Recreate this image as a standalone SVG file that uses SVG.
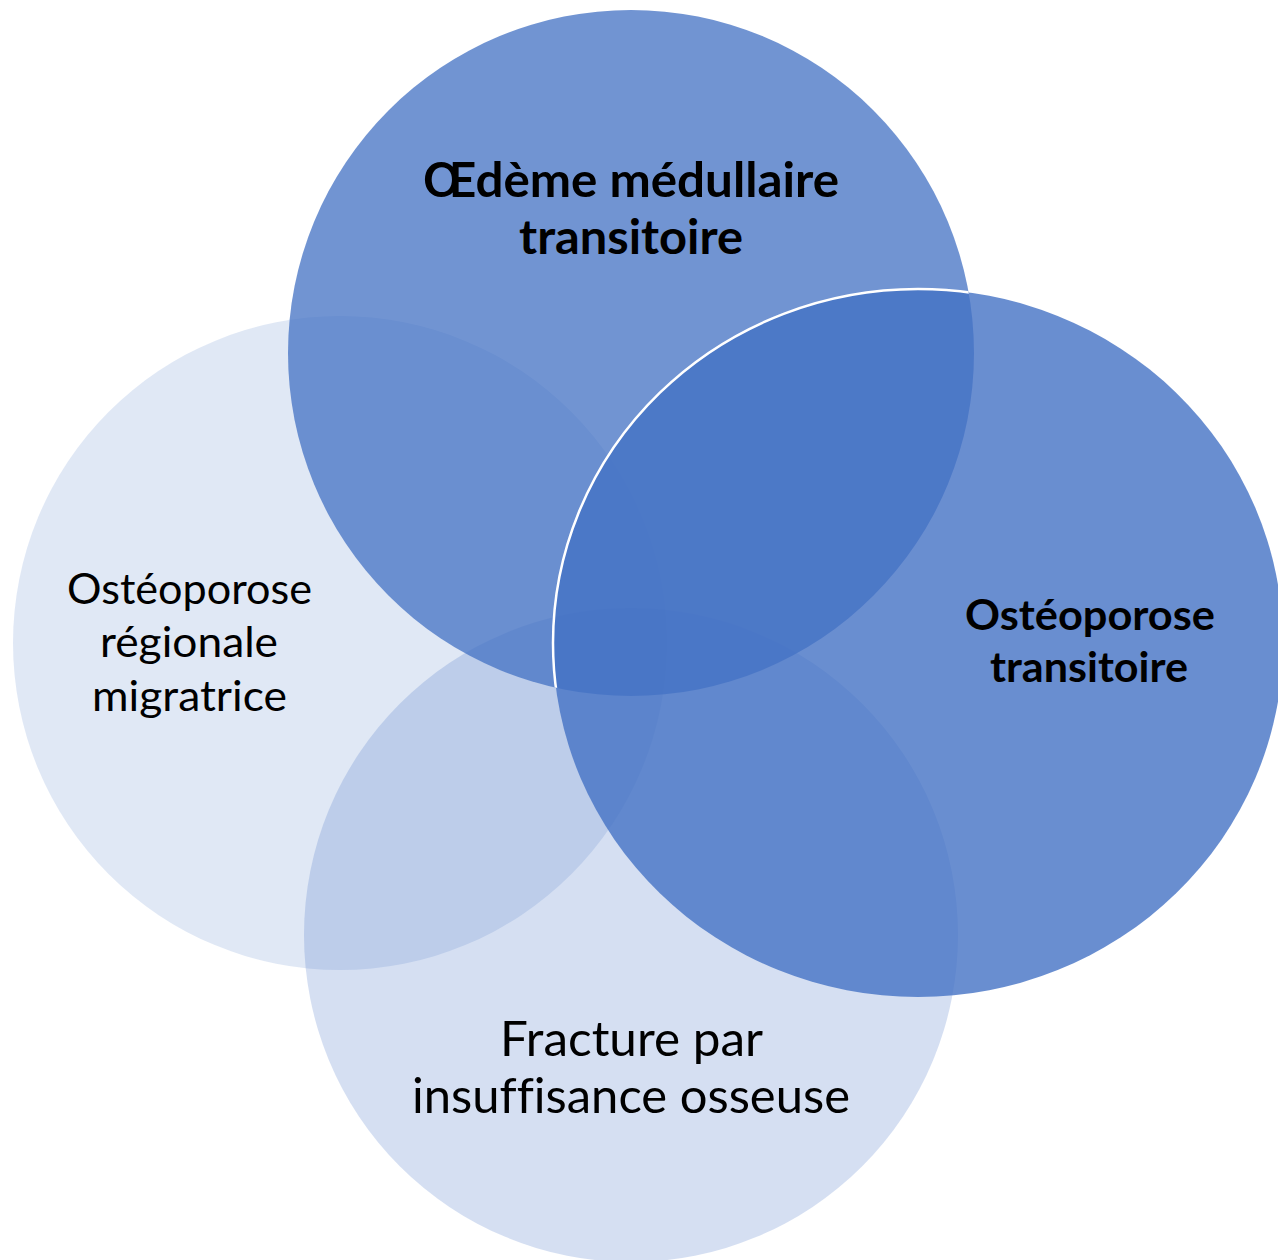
<svg xmlns="http://www.w3.org/2000/svg" width="1278" height="1260" viewBox="0 0 1278 1260">
  <style>
    .shape { fill: #4472C4; }
    .lbl { font-family: Lato, "Liberation Sans", sans-serif; fill: #000000; text-anchor: middle; font-variant-ligatures: none; }
    .reg { font-weight: normal; }
    .bold { font-weight: bold; }
  </style>
  <defs>
    <clipPath id="clipTop">
      <circle cx="631" cy="353" r="343"/>
    </clipPath>
  </defs>
  <rect x="0" y="0" width="1278" height="1260" fill="#ffffff"/>

  <g id="node-left">
    <circle class="shape" cx="340" cy="643" r="327" fill-opacity="0.166"/>
  </g>
  <g id="node-bottom">
    <circle class="shape" cx="631" cy="935" r="327" fill-opacity="0.225"/>
  </g>
  <g id="node-top">
    <circle class="shape" cx="631" cy="353" r="343" fill-opacity="0.76"/>
  </g>
  <g id="node-right">
    <ellipse class="shape" cx="918" cy="643" rx="365" ry="354" fill-opacity="0.8"/>
    <ellipse cx="918" cy="643" rx="365" ry="354" fill="none" stroke="#ffffff" stroke-width="2.5" clip-path="url(#clipTop)"/>
  </g>

  <g id="connectors"></g>

  <g id="labels">
    <text class="lbl bold" x="631" y="197" font-size="47" textLength="416" lengthAdjust="spacingAndGlyphs">Œdème médullaire</text>
    <text class="lbl bold" x="631" y="254" font-size="47" textLength="224" lengthAdjust="spacingAndGlyphs">transitoire</text>

    <text class="lbl bold" x="1090" y="630" font-size="42" textLength="250" lengthAdjust="spacingAndGlyphs">Ostéoporose</text>
    <text class="lbl bold" x="1089" y="682" font-size="42" textLength="198" lengthAdjust="spacingAndGlyphs">transitoire</text>

    <text class="lbl reg" x="189.5" y="604" font-size="42" textLength="245" lengthAdjust="spacingAndGlyphs">Ostéoporose</text>
    <text class="lbl reg" x="189" y="657" font-size="42" textLength="178" lengthAdjust="spacingAndGlyphs">régionale</text>
    <text class="lbl reg" x="189.5" y="711" font-size="42" textLength="195" lengthAdjust="spacingAndGlyphs">migratrice</text>

    <text class="lbl reg" x="631.5" y="1056" font-size="47.5" textLength="263" lengthAdjust="spacingAndGlyphs">Fracture par</text>
    <text class="lbl reg" x="631" y="1113" font-size="47.5" textLength="438" lengthAdjust="spacingAndGlyphs">insuffisance osseuse</text>
  </g>
</svg>
